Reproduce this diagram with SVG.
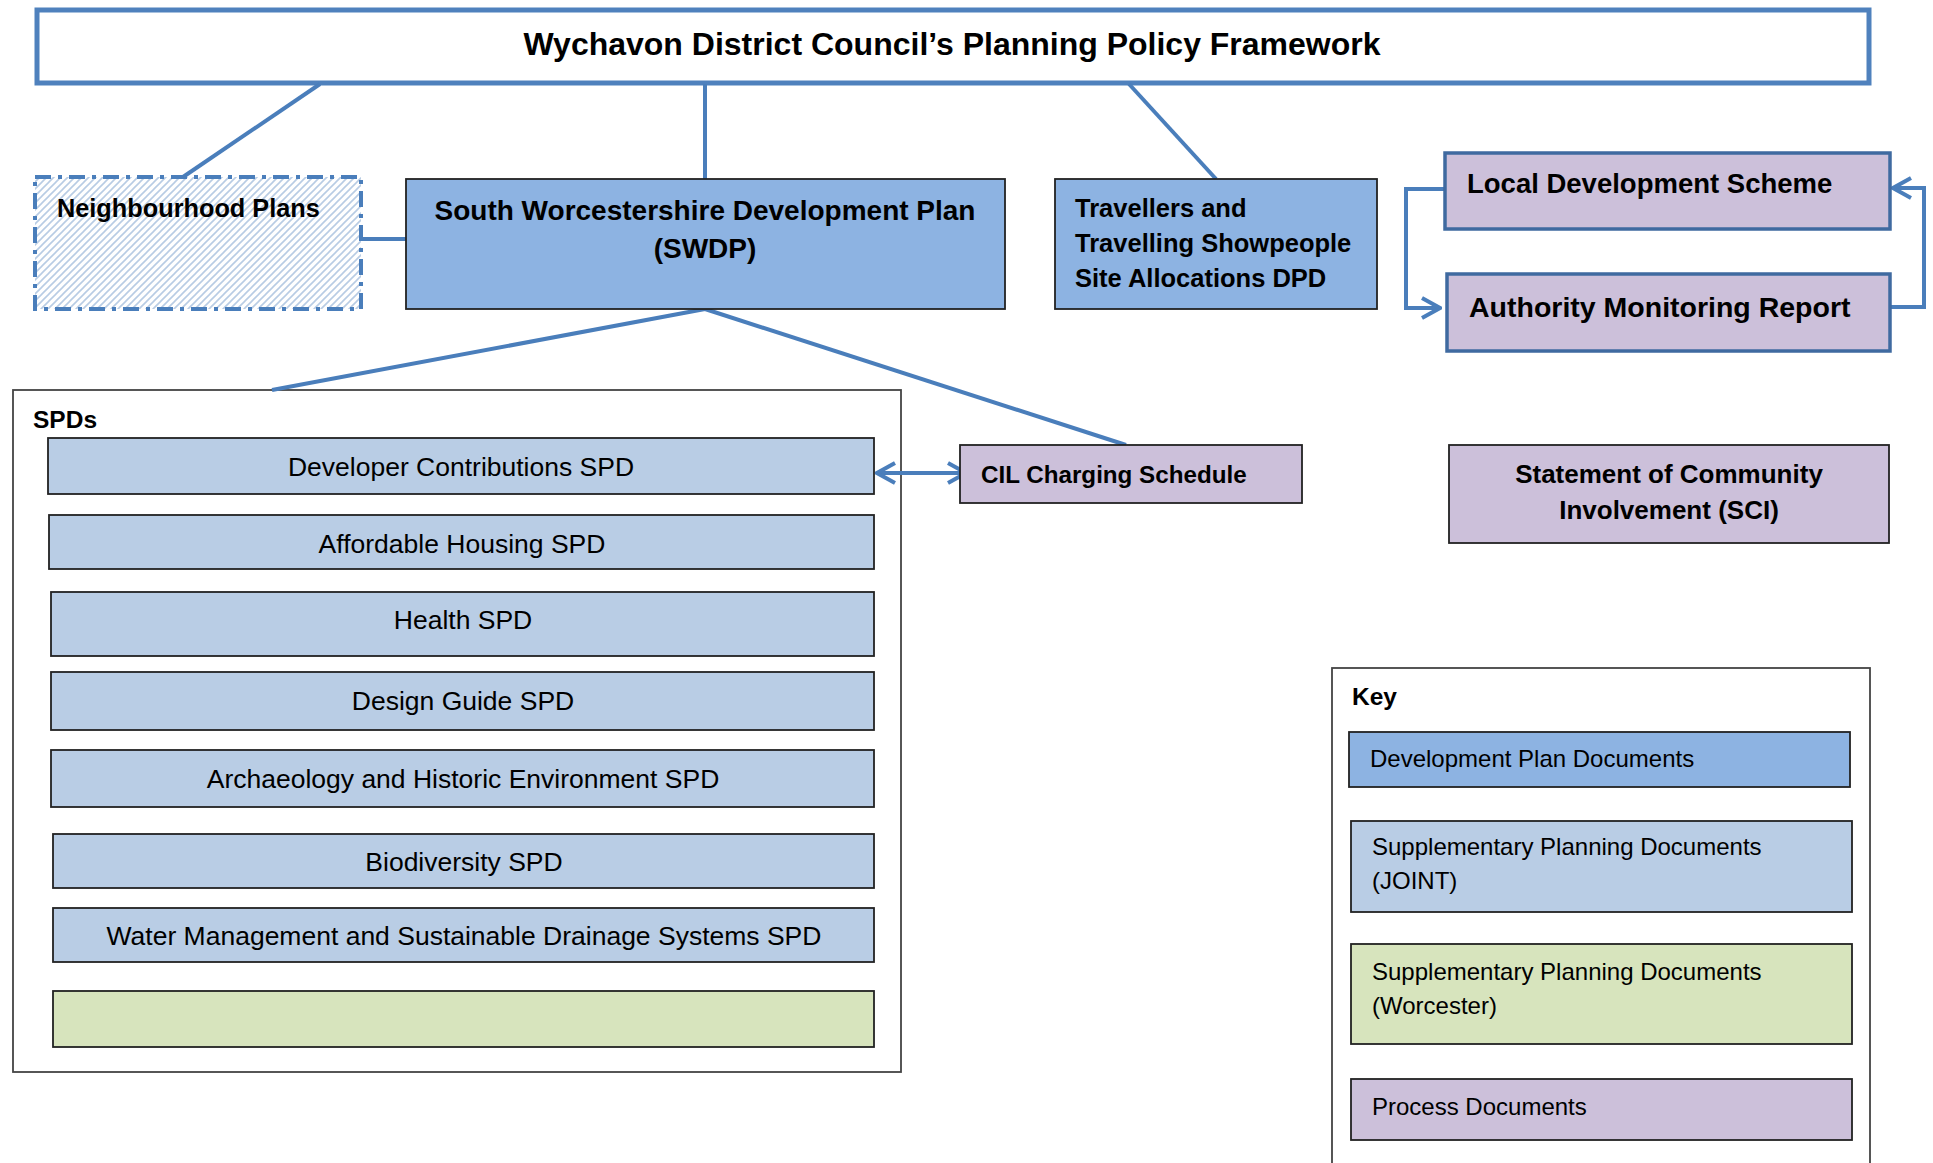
<svg xmlns="http://www.w3.org/2000/svg" width="1933" height="1163" viewBox="0 0 1933 1163">
<defs>
<pattern id="hatch" patternUnits="userSpaceOnUse" width="7" height="7">
<rect width="7" height="7" fill="#ffffff"/>
<path d="M-1,8 L8,-1 M-1,1 L1,-1 M6,8 L8,6" stroke="#b8cce4" stroke-width="1.6"/>
</pattern>
<marker id="chev" viewBox="0 0 22 24" refX="20" refY="12" markerWidth="22" markerHeight="24" markerUnits="userSpaceOnUse" orient="auto-start-reverse">
<path d="M2,2 L20,12 L2,22" fill="none" stroke="#4a7ebb" stroke-width="4"/>
</marker>
<style>
text{font-family:"Liberation Sans",Arial,sans-serif;fill:#000}
.b{font-weight:bold}
.conn{fill:none;stroke:#4a7ebb;stroke-width:4}
.dpd{fill:#8db3e2;stroke:#222;stroke-width:1.8}
.spd{fill:#b9cde5;stroke:#222;stroke-width:1.8}
.wor{fill:#d7e4bd;stroke:#222;stroke-width:1.8}
.proc{fill:#ccc0da;stroke:#222;stroke-width:1.8}
.procb{fill:#ccc0da;stroke:#3f6aa0;stroke-width:3.5}
.frame{fill:#ffffff;stroke:#444;stroke-width:1.8}
.t24{font-size:24.5px}
.t25{font-size:26.5px}
.t22{font-size:24px}
</style>
</defs>

<g id="title">
<rect x="37" y="10" width="1832" height="73" fill="#ffffff" stroke="#4f81bd" stroke-width="5"/>
<text x="952" y="55" class="b" font-size="32" text-anchor="middle">Wychavon District Council’s Planning Policy Framework</text>
</g>

<g id="spds-frame">
<rect class="frame" x="13" y="390" width="888" height="682"/>
<text x="33" y="428" class="b t24">SPDs</text>
</g>

<g id="key">
<rect class="frame" x="1332" y="668" width="538" height="520"/>
<text x="1352" y="705" class="b t24">Key</text>
<rect class="dpd" x="1349" y="732" width="501" height="55"/>
<text x="1370" y="767" class="t22">Development Plan Documents</text>
<rect class="spd" x="1351" y="821" width="501" height="91"/>
<text x="1372" y="855" class="t22">Supplementary Planning Documents</text>
<text x="1372" y="889" class="t22">(JOINT)</text>
<rect class="wor" x="1351" y="944" width="501" height="100"/>
<text x="1372" y="980" class="t22">Supplementary Planning Documents</text>
<text x="1372" y="1014" class="t22">(Worcester)</text>
<rect class="proc" x="1351" y="1079" width="501" height="61"/>
<text x="1372" y="1115" class="t22">Process Documents</text>
</g>

<g id="connectors">
<line class="conn" x1="320" y1="84" x2="183" y2="177"/>
<line class="conn" x1="705" y1="84" x2="705" y2="179"/>
<line class="conn" x1="1129" y1="84" x2="1216" y2="179"/>
<polyline class="conn" points="361,239 406,239"/>
<line class="conn" x1="705" y1="309" x2="272" y2="390"/>
<line class="conn" x1="705" y1="309" x2="1126" y2="445"/>
<line class="conn" x1="877" y1="473" x2="966" y2="473" marker-start="url(#chev)" marker-end="url(#chev)"/>
<polyline class="conn" points="1445,189 1406,189 1406,308 1440,308" marker-end="url(#chev)"/>
<polyline class="conn" points="1890,307 1924,307 1924,188 1893,188" marker-end="url(#chev)"/>
</g>

<g id="neighbourhood-plans">
<rect x="35" y="177" width="326" height="132" fill="url(#hatch)" stroke="#4a7ebb" stroke-width="4" stroke-dasharray="16,7,4,7"/>
<text x="57" y="217" class="b" font-size="25.3">Neighbourhood Plans</text>
</g>

<g id="swdp">
<rect class="dpd" x="406" y="179" width="599" height="130"/>
<text x="705" y="220" class="b" font-size="28" text-anchor="middle">South Worcestershire Development Plan</text>
<text x="705" y="258" class="b" font-size="28" text-anchor="middle">(SWDP)</text>
</g>

<g id="travellers">
<rect class="dpd" x="1055" y="179" width="322" height="130"/>
<text x="1075" y="217" class="b" font-size="25.5">Travellers and</text>
<text x="1075" y="252" class="b" font-size="25.5">Travelling Showpeople</text>
<text x="1075" y="287" class="b" font-size="25.5">Site Allocations DPD</text>
</g>

<g id="lds">
<rect class="procb" x="1445" y="153" width="445" height="76"/>
<text x="1467" y="193" class="b" font-size="27.5">Local Development Scheme</text>
</g>

<g id="amr">
<rect class="procb" x="1447" y="274" width="443" height="77"/>
<text x="1469" y="317" class="b" font-size="28.5">Authority Monitoring Report</text>
</g>

<g id="sci">
<rect class="proc" x="1449" y="445" width="440" height="98"/>
<text x="1669" y="483" class="b" font-size="26" text-anchor="middle">Statement of Community</text>
<text x="1669" y="519" class="b" font-size="26" text-anchor="middle">Involvement (SCI)</text>
</g>

<g id="cil">
<rect class="proc" x="960" y="445" width="342" height="58"/>
<text x="981" y="483" class="b" font-size="24.2">CIL Charging Schedule</text>
</g>

<g id="spd-developer-contributions">
<rect class="spd" x="48" y="438" width="826" height="56"/>
<text x="461" y="476" class="t25" text-anchor="middle">Developer Contributions SPD</text>
</g>
<g id="spd-affordable-housing">
<rect class="spd" x="49" y="515" width="825" height="54"/>
<text x="462" y="553" class="t25" text-anchor="middle">Affordable Housing SPD</text>
</g>
<g id="spd-health">
<rect class="spd" x="51" y="592" width="823" height="64"/>
<text x="463" y="629" class="t25" text-anchor="middle">Health SPD</text>
</g>
<g id="spd-design-guide">
<rect class="spd" x="51" y="672" width="823" height="58"/>
<text x="463" y="710" class="t25" text-anchor="middle">Design Guide SPD</text>
</g>
<g id="spd-archaeology">
<rect class="spd" x="51" y="750" width="823" height="57"/>
<text x="463" y="788" class="t25" text-anchor="middle">Archaeology and Historic Environment SPD</text>
</g>
<g id="spd-biodiversity">
<rect class="spd" x="53" y="834" width="821" height="54"/>
<text x="464" y="871" class="t25" text-anchor="middle">Biodiversity SPD</text>
</g>
<g id="spd-water-management">
<rect class="spd" x="53" y="908" width="821" height="54"/>
<text x="464" y="945" class="t25" text-anchor="middle">Water Management and Sustainable Drainage Systems SPD</text>
</g>
<g id="spd-worcester">
<rect class="wor" x="53" y="991" width="821" height="56"/>
</g>
</svg>
